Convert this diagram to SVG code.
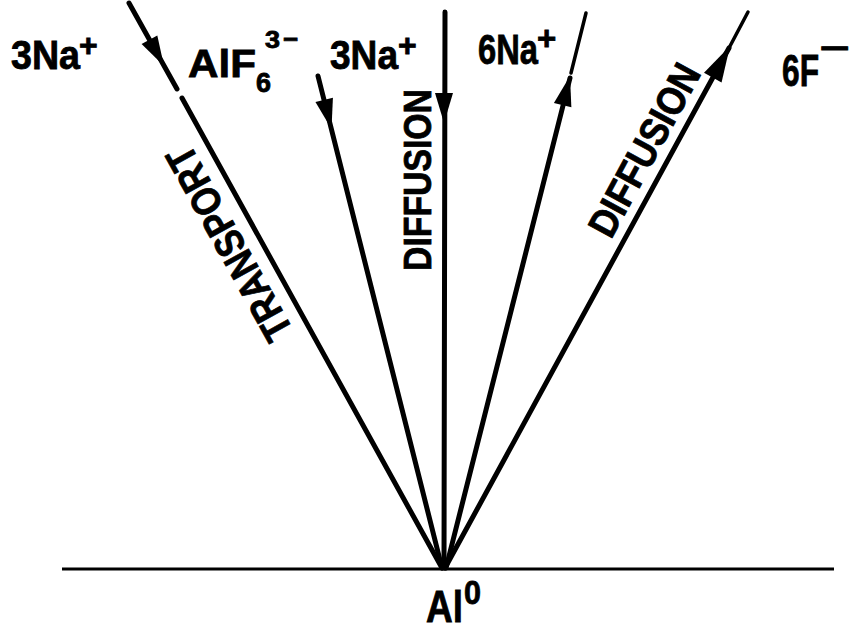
<svg xmlns="http://www.w3.org/2000/svg" width="849" height="626" viewBox="0 0 849 626">
<style>
.lbl{font-family:"Liberation Sans",Arial,sans-serif;font-weight:bold;fill:#000;stroke:#000;stroke-width:0.8}
.ln{stroke:#000;stroke-width:5;stroke-linecap:round;fill:none}
.thin{stroke:#000;stroke-width:3.5;stroke-linecap:round;fill:none}
.base{stroke:#000;stroke-width:3;fill:none}
</style>
<defs>
<path id="ah" d="M0,0 L-30,-9 L-30,9 Z" fill="#000"/>
<path id="ahl" d="M0,0 L-36,-10 L-36,10 Z" fill="#000"/>
</defs>
<rect width="849" height="626" fill="#fff"/>
<g id="connectors">
<line class="base" x1="62" y1="569" x2="834" y2="569"/>
<line class="ln" x1="129" y1="3" x2="177" y2="89"/>
<line class="ln" x1="182" y1="98" x2="442" y2="568"/>
<line class="ln" x1="318" y1="76" x2="442" y2="568"/>
<line class="ln" x1="445" y1="12" x2="444" y2="568"/>
<line class="ln" x1="446" y1="568" x2="570" y2="78"/>
<line class="thin" x1="571" y1="73" x2="586" y2="13"/>
<line class="ln" x1="445" y1="568" x2="729" y2="48"/>
<line class="thin" x1="729" y1="48" x2="748" y2="12"/>
<use href="#ah" transform="translate(164,66) rotate(61)"/>
<use href="#ah" transform="translate(331.5,129) rotate(75.9)"/>
<use href="#ah" transform="translate(444,123) rotate(90)"/>
<use href="#ah" transform="translate(570,76) rotate(-75.8)"/>
<use href="#ahl" transform="translate(730,46) rotate(-61.4)"/>
</g>
<g id="na-left">
<text class="lbl" x="11" y="69" font-size="40" textLength="69" lengthAdjust="spacingAndGlyphs">3Na</text>
<text class="lbl" x="79" y="56" font-size="32">+</text>
</g>
<g id="alf6">
<text class="lbl" x="188" y="77" font-size="39" textLength="68" lengthAdjust="spacingAndGlyphs">AlF</text>
<text class="lbl" x="256" y="92" font-size="27" textLength="15" lengthAdjust="spacingAndGlyphs">6</text>
<text class="lbl" x="265" y="48" font-size="23" textLength="15" lengthAdjust="spacingAndGlyphs">3</text>
<text class="lbl" x="283" y="48" font-size="26">−</text>
</g>
<g id="na-mid">
<text class="lbl" x="330" y="69" font-size="40" textLength="68" lengthAdjust="spacingAndGlyphs">3Na</text>
<text class="lbl" x="398" y="56" font-size="32">+</text>
</g>
<g id="na6">
<text class="lbl" x="478" y="64" font-size="42" textLength="60" lengthAdjust="spacingAndGlyphs">6Na</text>
<text class="lbl" x="537" y="50" font-size="33">+</text>
</g>
<g id="f6">
<text class="lbl" x="782" y="86" font-size="44" textLength="37" lengthAdjust="spacingAndGlyphs">6F</text>
<text class="lbl" x="820" y="59" font-size="32" textLength="30" lengthAdjust="spacingAndGlyphs">−</text>
</g>
<g id="al0">
<text class="lbl" x="426" y="622" font-size="44" textLength="37" lengthAdjust="spacingAndGlyphs">Al</text>
<text class="lbl" x="464" y="604" font-size="34" textLength="17" lengthAdjust="spacingAndGlyphs">0</text>
</g>
<g id="transport">
<text class="lbl" font-size="41" textLength="216" lengthAdjust="spacingAndGlyphs" transform="translate(294,331) rotate(-119)">TRANSPORT</text>
</g>
<g id="diffusion-v">
<text class="lbl" font-size="38" textLength="182" lengthAdjust="spacingAndGlyphs" transform="translate(431,271) rotate(-90)">DIFFUSION</text>
</g>
<g id="diffusion-r">
<text class="lbl" font-size="40" textLength="190" lengthAdjust="spacingAndGlyphs" transform="translate(611,240) rotate(-61.4)">DIFFUSION</text>
</g>
</svg>
